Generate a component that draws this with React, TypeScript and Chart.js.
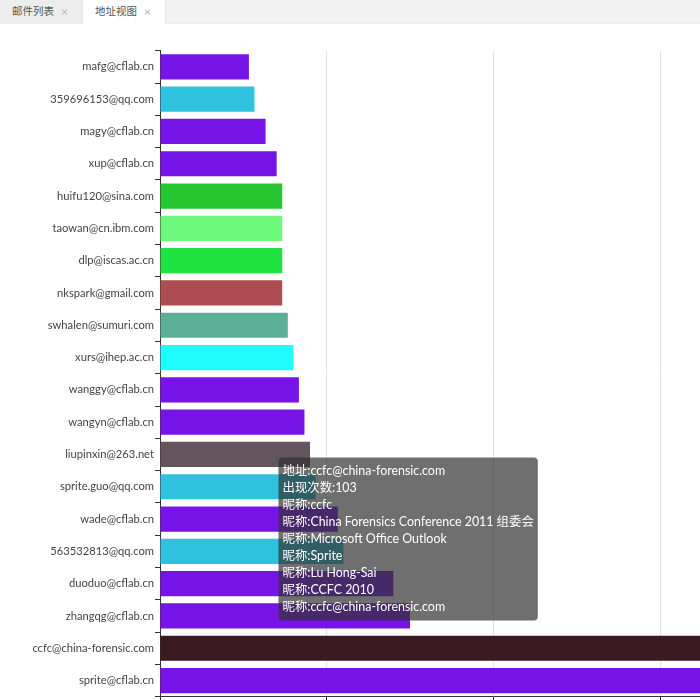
import React, { useEffect, useRef } from "react";
import { Chart, registerables, Tooltip } from "chart.js";

Chart.register(...registerables);

const addresses: string[] = [
  "mafg@cflab.cn",
  "359696153@qq.com",
  "magy@cflab.cn",
  "xup@cflab.cn",
  "huifu120@sina.com",
  "taowan@cn.ibm.com",
  "dlp@iscas.ac.cn",
  "nkspark@gmail.com",
  "swhalen@sumuri.com",
  "xurs@ihep.ac.cn",
  "wanggy@cflab.cn",
  "wangyn@cflab.cn",
  "liupinxin@263.net",
  "sprite.guo@qq.com",
  "wade@cflab.cn",
  "563532813@qq.com",
  "duoduo@cflab.cn",
  "zhangqg@cflab.cn",
  "ccfc@china-forensic.com",
  "sprite@cflab.cn",
];

const counts: number[] = [16, 17, 19, 21, 22, 22, 22, 22, 23, 24, 25, 26, 27, 28, 32, 33, 42, 45, 103, 110];

const barColors: string[] = [
  "#7614e8",
  "#2fc2de",
  "#7614e8",
  "#7614e8",
  "#28c631",
  "#6cf97c",
  "#1ee23f",
  "#ad4d52",
  "#5aaf94",
  "#20fcfe",
  "#7614e8",
  "#7614e8",
  "#63545d",
  "#2fc2de",
  "#7614e8",
  "#2fc2de",
  "#7614e8",
  "#7614e8",
  "#3b1a24",
  "#7614e8",
];

const ccfcNicknames: string[] = [
  "ccfc",
  "China Forensics Conference 2011 组委会",
  "Microsoft Office Outlook",
  "Sprite",
  "Lu Hong-Sai",
  "CCFC 2010",
  "ccfc@china-forensic.com",
];

const nicknamesByAddress: Record<string, string[]> = {
  "ccfc@china-forensic.com": ccfcNicknames,
};

const xTicks: number[] = [0, 30, 60, 90, 120];

const tabs: string[] = ["邮件列表", "地址视图"];
const activeTab = "地址视图";
const hoveredAddress = "ccfc@china-forensic.com";

const FONT = 'Lato, "Noto Sans CJK SC", sans-serif';

(Tooltip.positioners as any).fixedSpot = function () {
  return { x: 282.5, y: 433.5 };
};

function ChartView() {
  const ref = useRef<HTMLCanvasElement | null>(null);
  useEffect(() => {
    if (!ref.current) return;
    const chart = new Chart(ref.current, {
      type: "bar",
      data: {
        labels: addresses,
        datasets: [
          {
            data: counts,
            backgroundColor: barColors,
            hoverBackgroundColor: barColors,
            borderWidth: 0,
            barPercentage: 0.78,
            categoryPercentage: 1,
          },
        ],
      },
      options: {
        indexAxis: "y",
        animation: false,
        responsive: false,
        devicePixelRatio: 1,
        events: [],
        layout: { padding: { left: 0, top: 26.7, right: 33.3, bottom: 7.3 } },
        scales: {
          x: {
            type: "linear",
            min: xTicks[0],
            max: xTicks[xTicks.length - 1],
            afterBuildTicks: (scale: any) => {
              scale.ticks = xTicks.map((v) => ({ value: v }));
            },
            afterFit: (scale: any) => {
              scale.height = 20;
            },
            grid: {
              color: "#e2e2e2",
              tickColor: "#333",
              tickLength: 5,
              lineWidth: 1,
            },
            border: { color: "#333", width: 1 },
            ticks: { color: "#333", font: { family: FONT, size: 12 } },
          },
          y: {
            type: "category",
            afterFit: (scale: any) => {
              scale.width = 160;
            },
            grid: {
              drawOnChartArea: false,
              offset: true,
              tickColor: "#333",
              tickLength: 5,
            },
            border: { color: "#333", width: 1 },
            ticks: {
              color: "#444",
              padding: 1,
              font: { family: FONT, size: 11.2 },
              autoSkip: false,
            },
          },
        },
        plugins: {
          legend: { display: false },
          tooltip: {
            enabled: true,
            position: "fixedSpot" as any,
            xAlign: "left",
            yAlign: "top",
            caretSize: 0,
            caretPadding: 0,
            cornerRadius: 4,
            backgroundColor: "rgba(50,50,50,0.7)",
            bodyColor: "#fff",
            bodyFont: { family: FONT, size: 12.4, lineHeight: 17 / 12.4 },
            bodySpacing: 0,
            padding: { top: 5, bottom: 5, left: 4, right: 4 },
            displayColors: false,
            callbacks: {
              title: () => [],
              label: (ctx: any) => {
                const addr = addresses[ctx.dataIndex];
                const nicks = nicknamesByAddress[addr] || [];
                return [
                  `地址:${addr}`,
                  `出现次数:${counts[ctx.dataIndex]}`,
                  ...nicks.map((n) => `昵称:${n}`),
                ];
              },
            },
          },
        },
      },
    });
    const idx = addresses.indexOf(hoveredAddress);
    chart.tooltip!.setActiveElements([{ datasetIndex: 0, index: idx }], { x: 0, y: 0 });
    chart.update();
    return () => chart.destroy();
  }, []);
  return (
    <canvas
      ref={ref}
      width={860}
      height={700}
      style={{ position: "absolute", left: 0, top: 24, width: 860, height: 700 }}
    />
  );
}

export default function App() {
  return (
    <div
      style={{
        position: "fixed",
        left: 0,
        top: 0,
        width: 700,
        height: 700,
        overflow: "hidden",
        background: "#fff",
        fontFamily: FONT,
      }}
    >
      <div
        style={{
          position: "absolute",
          left: 0,
          top: 0,
          width: 700,
          height: 24,
          background: "#f2f2f2",
          borderBottom: "1px solid #ececec",
          boxSizing: "border-box",
        }}
      >
        {tabs.map((t, i) => {
          const active = t === activeTab;
          return (
            <div
              key={t}
              style={{
                position: "absolute",
                left: i * 83,
                top: 0,
                width: 83,
                height: active ? 24 : 23,
                background: active ? "#ffffff" : "#ededed",
                borderRight: "1px solid #e4e4e4",
                boxSizing: "border-box",
                fontSize: 10.5,
                color: "#555",
                lineHeight: "23px",
                zIndex: active ? 2 : 1,
              }}
            >
              <span style={{ position: "absolute", left: 12 }}>{t}</span>
              <span style={{ position: "absolute", left: 61, color: "#b5b5b5", fontSize: 12 }}>×</span>
            </div>
          );
        })}
      </div>
      <ChartView />
    </div>
  );
}
